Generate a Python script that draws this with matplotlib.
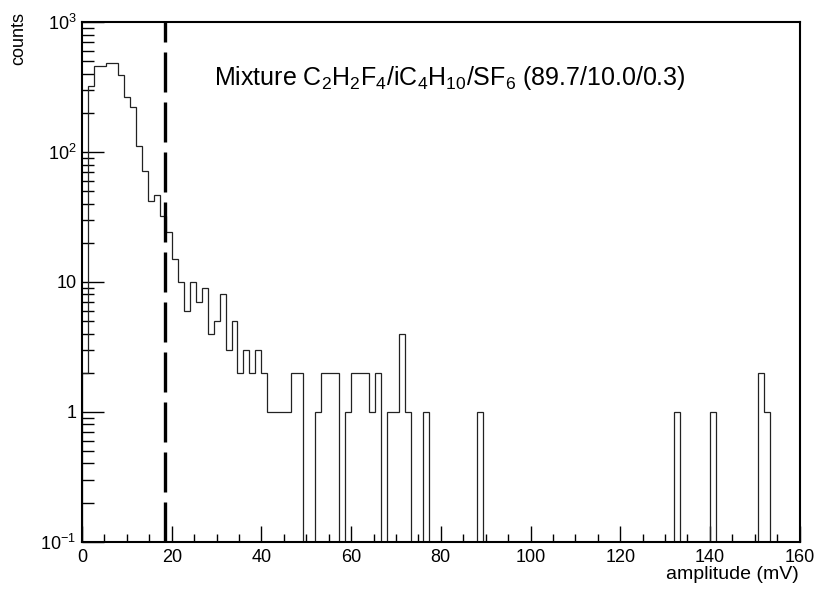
import numpy as np
import matplotlib
matplotlib.use('Agg')
import matplotlib.pyplot as plt
from matplotlib.ticker import MultipleLocator, LogLocator, FuncFormatter, NullFormatter

plt.rcParams['font.family'] = ['Liberation Sans', 'DejaVu Sans']
plt.rcParams['mathtext.fontset'] = 'custom'
plt.rcParams['mathtext.rm'] = 'Liberation Sans'
plt.rcParams['mathtext.it'] = 'Liberation Sans:italic'
plt.rcParams['mathtext.bf'] = 'Liberation Sans:bold'

# ---- data ----
x_min, x_max = 0, 160
n_bins = 120
counts = [
    2, 324, 461, 461, 484, 484, 388, 265, 220, 112,
    71, 42, 47, 32, 24, 15, 10, 6, 10, 7,
    9, 4, 5, 8, 3, 5, 2, 3, 2, 3,
    2, 1, 1, 1, 1, 2, 2, 0, 0, 1,
    2, 2, 2, 0, 1, 2, 2, 2, 1, 2,
    0, 1, 1, 4, 1, 0, 0, 1, 0, 0,
    0, 0, 0, 0, 0, 0, 1, 0, 0, 0,
    0, 0, 0, 0, 0, 0, 0, 0, 0, 0,
    0, 0, 0, 0, 0, 0, 0, 0, 0, 0,
    0, 0, 0, 0, 0, 0, 0, 0, 0, 1,
    0, 0, 0, 0, 0, 1, 0, 0, 0, 0,
    0, 0, 0, 2, 1, 0, 0, 0, 0, 0,
]
threshold = 18.5
title = r'Mixture C$_2$H$_2$F$_4$/iC$_4$H$_{10}$/SF$_6$ (89.7/10.0/0.3)'
xlabel = 'amplitude (mV)'
ylabel = 'counts'

# ---- figure ----
W, H = 830, 594
fig = plt.figure(figsize=(W / 100, H / 100), dpi=100)
L, R, T, B = 82, 799.6, 22, 541.7
ax = fig.add_axes([L / W, 1 - B / H, (R - L) / W, (B - T) / H])

edges = np.linspace(x_min, x_max, n_bins + 1)
vals = np.array(counts, dtype=float)
vals = np.where(vals > 0, vals, 1e-4)
ax.stairs(vals, edges, baseline=1e-4, color='#222222', lw=0.9, zorder=2)

ax.set_yscale('log')
ax.set_xlim(x_min, x_max)
ax.set_ylim(0.1, 1000)

ln, = ax.plot([threshold, threshold], [0.1, 1000], color='black', lw=2.4, zorder=3)
ln.set_dashes((12, 3))

ax.xaxis.set_major_locator(MultipleLocator(20))
ax.xaxis.set_minor_locator(MultipleLocator(5))
ax.yaxis.set_major_locator(LogLocator(base=10, numticks=10))
ax.yaxis.set_minor_locator(LogLocator(base=10, subs=np.arange(2, 10), numticks=20))
ax.yaxis.set_minor_formatter(NullFormatter())

def yfmt(v, pos):
    e = int(round(np.log10(v)))
    if e == 0:
        return '1'
    if e == 1:
        return '10'
    return r'$10^{%d}$' % e

ax.yaxis.set_major_formatter(FuncFormatter(yfmt))
ax.xaxis.set_major_formatter(FuncFormatter(lambda v, p: '%d' % v))

ax.tick_params(axis='both', which='both', direction='in', top=False, right=False,
               width=1.0, labelsize=13, colors='black')
ax.tick_params(axis='x', which='major', length=11.5, pad=5)
ax.tick_params(axis='x', which='minor', length=5.8)
ax.tick_params(axis='y', which='major', length=15.8, pad=4)
ax.tick_params(axis='y', which='minor', length=8.6)
for s in ax.spines.values():
    s.set_linewidth(1.5)

ax.text(0.184, 0.878, title, transform=ax.transAxes, fontsize=18, va='baseline', ha='left')
fig.text(19 / W, 1 - 12 / H, ylabel, rotation=90, ha='center', va='top', fontsize=13)
fig.text(799 / W, 1 - 566 / H, xlabel, ha='right', va='top', fontsize=14)

fig.savefig('out.png', dpi=100)
